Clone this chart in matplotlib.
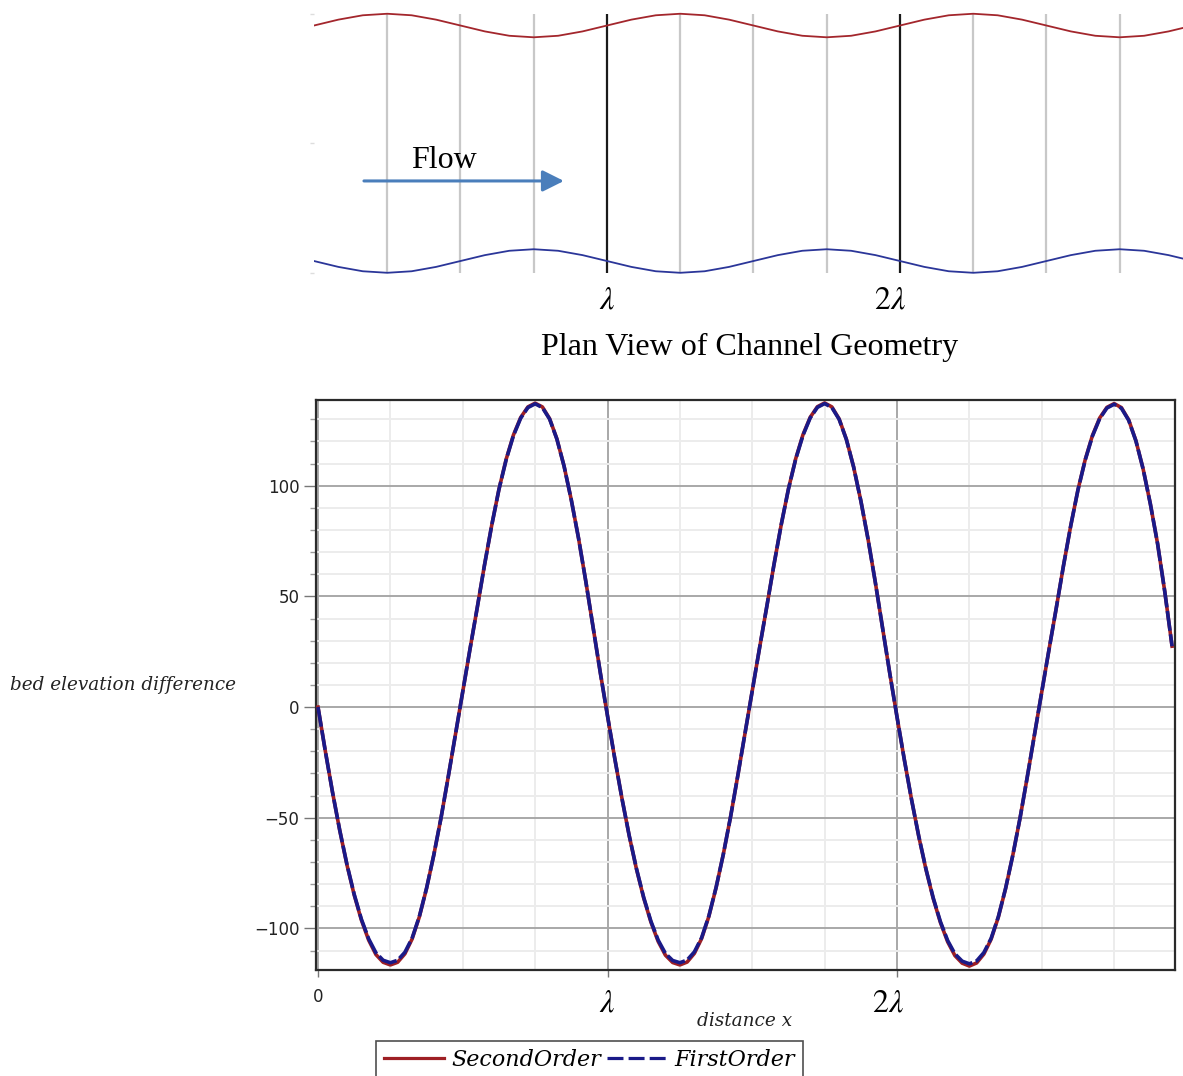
import numpy as np
import matplotlib
matplotlib.use("Agg")
import matplotlib.pyplot as plt
from matplotlib.lines import Line2D

plt.rcParams['mathtext.fontset'] = 'stix'

# plan view: channel half-width (in units of mean half-width), sampled every lambda/12
plan_x = [k / 12 for k in range(37)]
bank_halfwidth = [1.00, 1.05, 1.087, 1.10, 1.087, 1.05, 1.00, 0.95, 0.913, 0.90, 0.913, 0.95,
                  1.00, 1.05, 1.087, 1.10, 1.087, 1.05, 1.00, 0.95, 0.913, 0.90, 0.913, 0.95,
                  1.00, 1.05, 1.087, 1.10, 1.087, 1.05, 1.00, 0.95, 0.913, 0.90, 0.913, 0.95, 1.00]
plan_grid = [0.25, 0.5, 0.75, 1.25, 1.5, 1.75, 2.25, 2.5, 2.75]
plan_wave = [1, 2]

# bed elevation difference, sampled every lambda/40
distance = np.round(np.arange(119) * 0.025, 3)
second_order = [
    0, -19.7, -38.4, -55.7, -71.3, -84.9, -96.3, -105.3, -111.8, -115.3,
    -116.5, -115.3, -111.5, -104.8, -94.8, -81.9, -66.8, -50.0, -31.4, -12.2,
    7.0, 26.2, 44.9, 64.1, 82.1, 98.4, 112.0, 122.9, 130.8, 135.6,
    137.3, 135.6, 130.3, 121.2, 108.8, 93.5, 76.2, 56.8, 36.2, 15.6,
    -4, -23.2, -41.4, -58.2, -73.2, -86.3, -97.2, -105.9, -112.1, -115.4,
    -116.5, -115.2, -111.3, -104.6, -94.6, -81.6, -66.5, -49.6, -31.0, -11.8,
    7.4, 26.6, 45.3, 64.4, 82.4, 98.6, 112.2, 123.0, 130.9, 135.7,
    137.4, 135.6, 130.2, 121.0, 108.5, 93.2, 75.8, 56.4, 35.8, 15.2,
    -4.5, -23.6, -41.7, -58.4, -73.4, -86.5, -97.4, -106.1, -112.3, -115.7,
    -117.0, -115.6, -111.6, -104.9, -94.9, -82.0, -66.9, -50.1, -31.5, -12.3,
    6.9, 26.0, 44.7, 63.9, 81.9, 98.2, 111.8, 122.7, 130.6, 135.4,
    137.1, 135.3, 129.8, 120.4, 107.6, 91.8, 73.8, 52.0, 27.5]
first_order = [
    0, -19.7, -38.4, -55.6, -71.1, -84.6, -95.9, -104.7, -111.0, -114.4,
    -115.5, -114.4, -110.8, -104.4, -94.6, -81.8, -66.8, -50.0, -31.4, -12.2,
    7.0, 26.2, 44.9, 64.1, 82.1, 98.3, 111.8, 122.6, 130.5, 135.3,
    137.0, 135.3, 130.1, 121.1, 108.8, 93.5, 76.2, 56.8, 36.2, 15.6,
    -4, -23.2, -41.4, -58.1, -73.0, -86.0, -96.8, -105.3, -111.3, -114.5,
    -115.5, -114.3, -110.6, -104.2, -94.4, -81.5, -66.5, -49.6, -31.0, -11.8,
    7.4, 26.6, 45.3, 64.4, 82.4, 98.5, 112.0, 122.7, 130.6, 135.4,
    137.1, 135.3, 130.0, 120.9, 108.5, 93.2, 75.8, 56.4, 35.8, 15.2,
    -4.5, -23.6, -41.7, -58.3, -73.2, -86.2, -97.0, -105.5, -111.5, -114.8,
    -116.0, -114.7, -110.9, -104.5, -94.7, -81.9, -66.9, -50.1, -31.5, -12.3,
    6.9, 26.0, 44.7, 63.9, 81.9, 98.1, 111.6, 122.4, 130.3, 135.1,
    136.8, 135.0, 129.6, 120.3, 107.6, 91.8, 73.8, 52.0, 27.5]
y_ticks = [-100, -50, 0, 50, 100]

red = '#9e1f24'
navy = '#1a1a88'

fig = plt.figure(figsize=(11.83, 10.76), dpi=100)

# ---------- plan view ----------
top = fig.add_axes([0.2654, 0.7421, 0.7346, 0.2495])
top.set_xlim(0, 2.966)
top.set_ylim(-1.14, 1.14)
for s in top.spines.values():
    s.set_visible(False)
top.set_xticks([])
top.set_yticks([-1.1, 0, 1.1])
top.set_yticklabels([])
top.tick_params(axis='y', length=3, color='#dddddd', width=1)
top.vlines(plan_grid, -1.1, 1.1, color='#c8c8c8', lw=1.6, zorder=1)
top.vlines(plan_wave, -1.1, 1.1, color='#1a1a1a', lw=1.6, zorder=2)
top.plot(plan_x, bank_halfwidth, color='#a3262c', lw=1.3, zorder=3)
top.plot(plan_x, [-h for h in bank_halfwidth], color='#2b3699', lw=1.3, zorder=3)
top.annotate('', xy=(0.853, -0.32), xytext=(0.1706, -0.32),
             arrowprops=dict(arrowstyle='-|>,head_length=1.3,head_width=0.65',
                             color='#4a7ebb', lw=2.2, shrinkA=0, shrinkB=0))
top.text(0.445, -0.15, 'Flow', family='Liberation Serif', fontsize=23,
         ha='center', va='center')

fig.text(607 / 1183, 1 - 300 / 1076, r'$\lambda$', fontsize=23, ha='center', va='center')
fig.text(890 / 1183, 1 - 300 / 1076, r'$2\lambda$', fontsize=23, ha='center', va='center')
fig.text(750 / 1183, 1 - 347 / 1076, 'Plan View of Channel Geometry',
         family='Liberation Serif', fontsize=23, ha='center', va='center')

# ---------- bed elevation ----------
ax = fig.add_axes([0.2671, 0.0985, 0.7261, 0.5297])
ax.set_xlim(-0.007, 2.96)
ax.set_ylim(-118.8, 138.7)
ax.set_xticks([0, 1, 2])
ax.set_xticklabels(['0', '', ''])
ax.set_xticks(np.arange(0.25, 2.96, 0.25), minor=True)
ax.set_yticks(y_ticks)
ax.set_yticks([v for v in range(-110, 140, 10) if v % 50 != 0], minor=True)
ax.grid(which='major', color='#a8a8a8', lw=1.4)
ax.grid(which='minor', color='#ececec', lw=1.4)
ax.set_axisbelow(True)
ax.tick_params(axis='y', which='major', length=9, width=1, color='#777777',
               labelsize=12, labelcolor='#222222', pad=3)
ax.tick_params(axis='y', which='minor', length=4, width=1, color='#999999')
ax.tick_params(axis='x', which='major', length=5, width=1, color='#777777',
               labelsize=12, labelcolor='#222222', pad=8)
ax.tick_params(axis='x', which='minor', length=0)
for s in ax.spines.values():
    s.set_color('#2a2a2a')
    s.set_linewidth(1.6)

ax.plot(distance, second_order, color=red, lw=2.6, zorder=3)
ax.plot(distance, first_order, color=navy, lw=2.6, dashes=(5.5, 1.0), zorder=4)

fig.text(607 / 1183, 1 - 1003 / 1076, r'$\lambda$', fontsize=23, ha='center', va='center')
fig.text(888 / 1183, 1 - 1003 / 1076, r'$2\lambda$', fontsize=23, ha='center', va='center')
fig.text(745 / 1183, 1 - 1021 / 1076, 'distance x', family='DejaVu Serif',
         style='italic', fontsize=13.3, ha='center', va='center', color='#222222')
fig.text(10 / 1183, 1 - 685 / 1076, 'bed elevation difference', family='DejaVu Serif',
         style='italic', fontsize=13.2, ha='left', va='center', color='#222222')

handles = [Line2D([], [], color=red, lw=2.3),
           Line2D([], [], color=navy, lw=2.3, dashes=(5, 1.6))]
leg = fig.legend(handles, ['SecondOrder', 'FirstOrder'], ncol=2,
                 loc='upper left', bbox_to_anchor=(376 / 1183, 1 - 1041 / 1076),
                 prop=dict(family='DejaVu Serif', style='italic', size=16),
                 frameon=True, fancybox=False, edgecolor='#222222',
                 handlelength=2.7, handletextpad=0.35, columnspacing=0.25,
                 borderpad=0.35, borderaxespad=0)
leg.get_frame().set_linewidth(1.2)

fig.savefig('out.png', dpi=100)
